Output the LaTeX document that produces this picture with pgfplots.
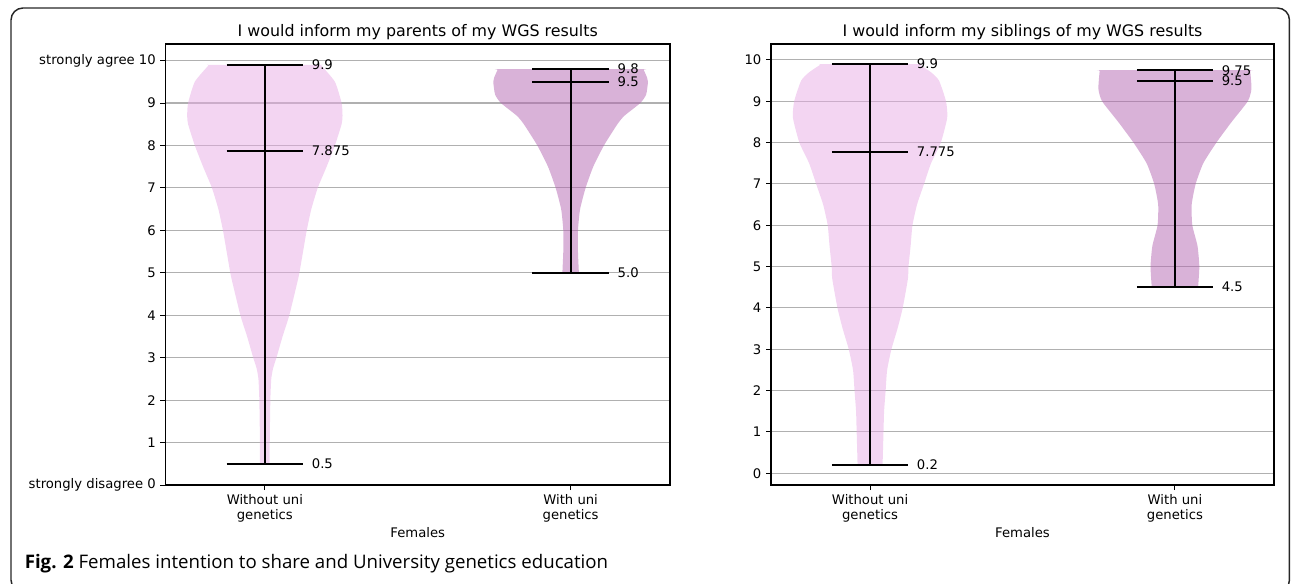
\documentclass[border=0pt]{standalone}
\usepackage{pgfplots}
\pgfplotsset{compat=1.18}
\usepackage{pgfplotstable}
\usepackage{fontspec}
\setmainfont{DejaVu Sans}
\newfontfamily\capfont{Open Sans}

\definecolor{vlA}{RGB}{231,171,229}
\definecolor{vlB}{RGB}{179,101,177}
\definecolor{gridc}{RGB}{176,176,176}

% violin outlines: y, signed half-width (right side up, left side down)
\pgfplotstableread{
y w
0.5 0.016
1 0.016
2 0.018
2.5 0.021
2.75 0.027
3 0.038
3.5 0.058
4 0.080
4.8 0.107
5 0.113
5.5 0.125
6 0.137
6.5 0.152
7 0.173
7.5 0.202
8 0.229
8.5 0.251
8.7 0.254
9 0.251
9.5 0.229
9.88 0.185
9.9 0.182
9.9 0
9.9 -0.182
9.88 -0.185
9.5 -0.229
9 -0.251
8.7 -0.254
8.5 -0.251
8 -0.229
7.5 -0.202
7 -0.173
6.5 -0.152
6 -0.137
5.5 -0.125
5 -0.113
4.8 -0.107
4 -0.080
3.5 -0.058
3 -0.038
2.75 -0.027
2.5 -0.021
2 -0.018
1 -0.016
0.5 -0.016
}\vPa

\pgfplotstableread{
y w
5 0.027
5.5 0.024
6 0.024
6.5 0.031
7 0.049
7.5 0.074
8 0.109
8.5 0.153
8.7 0.176
9 0.228
9.2 0.247
9.5 0.253
9.6 0.250
9.78 0.239
9.8 0.238
9.8 0
9.8 -0.238
9.78 -0.239
9.6 -0.250
9.5 -0.253
9.2 -0.247
9 -0.228
8.7 -0.176
8.5 -0.153
8 -0.109
7.5 -0.074
7 -0.049
6.5 -0.031
6 -0.024
5.5 -0.024
5 -0.027
}\vPb

\pgfplotstableread{
y w
0.2 0.041
1 0.044
1.5 0.046
2 0.051
2.5 0.056
3 0.070
3.5 0.090
4 0.107
4.7 0.124
5 0.126
5.5 0.133
6 0.139
6.5 0.154
7 0.177
7.5 0.200
8 0.232
8.6 0.253
9 0.249
9.5 0.226
9.7 0.200
9.88 0.164
9.9 0.161
9.9 0
9.9 -0.161
9.88 -0.164
9.7 -0.200
9.5 -0.226
9 -0.249
8.6 -0.253
8 -0.232
7.5 -0.200
7 -0.177
6.5 -0.154
6 -0.139
5.5 -0.133
5 -0.126
4.7 -0.124
4 -0.107
3.5 -0.090
3 -0.070
2.5 -0.056
2 -0.051
1.5 -0.046
1 -0.044
0.2 -0.041
}\vSa

\pgfplotstableread{
y w
4.5 0.076
5 0.080
5.5 0.074
6 0.057
6.5 0.055
7 0.068
7.5 0.093
8 0.136
8.5 0.186
9 0.239
9.3 0.251
9.73 0.247
9.75 0.246
9.75 0
9.75 -0.246
9.73 -0.247
9.3 -0.251
9 -0.239
8.5 -0.186
8 -0.136
7.5 -0.093
7 -0.068
6.5 -0.055
6 -0.057
5.5 -0.074
5 -0.080
4.5 -0.076
}\vSb

\tikzset{
  mybar/.style={black, line width=1.4pt},
  mylab/.style={anchor=west, inner sep=0pt, font=\fontsize{9.9}{11.25}\selectfont},
  vfill/.style={fill=#1, fill opacity=0.5, draw=none, smooth, tension=0.35},
}

\pgfplotsset{
  vio/.style={
    scale only axis,
    height=330.75pt,
    xmin=0.675, xmax=2.325,
    xtick={1,2},
    xticklabels={Without uni\\genetics, With uni\\genetics},
    ytick={0,1,...,10},
    tick align=outside,
    tick pos=left,
    major tick length=3.75pt,
    every tick/.style={black, line width=0.7pt},
    axis line style={black, line width=0.8pt},
    ymajorgrids,
    grid style={gridc, line width=0.85pt},
    /pgf/number format/assume math mode=true,
    ticklabel style={font=\fontsize{9.9}{11.25}\selectfont},
    xticklabel style={align=center},
    xlabel={Females},
    xlabel style={font=\fontsize{9.9}{11.25}\selectfont, at={(axis description cs:0.5,0)}, anchor=base, yshift=-39.6pt},
    title style={font=\fontsize{11.9}{14}\selectfont, at={(axis description cs:0.5,1)}, anchor=base, yshift=-0.75pt},
    clip=false,
  },
}

\begin{document}
\begin{tikzpicture}
\useasboundingbox (0,0) rectangle (969pt,-438pt);
\draw[line width=1.1pt, black!85, rounded corners=9pt] (8.25pt,-6pt) rectangle (967.1pt,-444pt);

\begin{axis}[vio,
  at={(124.1pt,-363.75pt)}, anchor=south west,
  width=378.4pt,
  ymin=0, ymax=10.39,
  yticklabels={strongly disagree 0,1,2,3,4,5,6,7,8,9,strongly agree 10},
  title={I would inform my parents of my WGS results},
]
\addplot[vfill=vlA] table[x expr=1+\thisrow{w}, y=y] {\vPa};
\addplot[vfill=vlB] table[x expr=2+\thisrow{w}, y=y] {\vPb};
\addplot[mybar] coordinates {(1,0.5) (1,9.9)};
\addplot[mybar] coordinates {(0.875,0.5) (1.125,0.5)};
\addplot[mybar] coordinates {(0.875,7.875) (1.125,7.875)};
\addplot[mybar] coordinates {(0.875,9.9) (1.125,9.9)};
\addplot[mybar] coordinates {(2,5.0) (2,9.8)};
\addplot[mybar] coordinates {(1.875,5.0) (2.125,5.0)};
\addplot[mybar] coordinates {(1.875,9.5) (2.125,9.5)};
\addplot[mybar] coordinates {(1.875,9.8) (2.125,9.8)};
\node[mylab] at (axis cs:1.153,9.9) {9.9};
\node[mylab] at (axis cs:1.153,7.875) {7.875};
\node[mylab] at (axis cs:1.153,0.5) {0.5};
\node[mylab] at (axis cs:2.153,9.8) {9.8};
\node[mylab] at (axis cs:2.153,9.5) {9.5};
\node[mylab] at (axis cs:2.153,5.0) {5.0};
\end{axis}

\begin{axis}[vio,
  at={(578.25pt,-363.75pt)}, anchor=south west,
  width=377.25pt,
  ymin=-0.285, ymax=10.385,
  title={I would inform my siblings of my WGS results},
]
\addplot[vfill=vlA] table[x expr=1+\thisrow{w}, y=y] {\vSa};
\addplot[vfill=vlB] table[x expr=2+\thisrow{w}, y=y] {\vSb};
\addplot[mybar] coordinates {(1,0.2) (1,9.9)};
\addplot[mybar] coordinates {(0.875,0.2) (1.125,0.2)};
\addplot[mybar] coordinates {(0.875,7.775) (1.125,7.775)};
\addplot[mybar] coordinates {(0.875,9.9) (1.125,9.9)};
\addplot[mybar] coordinates {(2,4.5) (2,9.75)};
\addplot[mybar] coordinates {(1.875,4.5) (2.125,4.5)};
\addplot[mybar] coordinates {(1.875,9.5) (2.125,9.5)};
\addplot[mybar] coordinates {(1.875,9.75) (2.125,9.75)};
\node[mylab] at (axis cs:1.153,9.9) {9.9};
\node[mylab] at (axis cs:1.153,7.775) {7.775};
\node[mylab] at (axis cs:1.153,0.2) {0.2};
\node[mylab] at (axis cs:2.153,9.75) {9.75};
\node[mylab] at (axis cs:2.153,9.5) {9.5};
\node[mylab] at (axis cs:2.153,4.5) {4.5};
\end{axis}

\node[anchor=base west, inner sep=0pt] at (18.4pt,-426.4pt)
  {\capfont\fontsize{14}{16}\selectfont\textbf{Fig. 2} Females intention to share and University genetics education};
\end{tikzpicture}
\end{document}
